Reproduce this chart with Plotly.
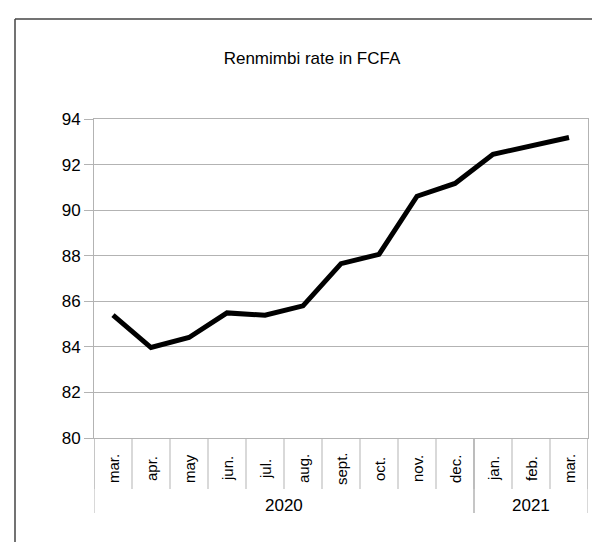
import plotly.graph_objects as go

months = ["mar.", "apr.", "may", "jun.", "jul.", "aug.", "sept.",
          "oct.", "nov.", "dec.", "jan.", "feb.", "mar."]
years = ["2020"] * 10 + ["2021"] * 3
rate = [85.39, 83.97, 84.41, 85.49, 85.39, 85.8, 87.65,
        88.06, 90.61, 91.17, 92.45, 92.83, 93.19]

W, H = 600, 542
L, R, T, B = 86, 20, 111, 112
plot_h = H - T - B
plot_w = W - L - R

def py(px_y):
    # pixel row -> paper y
    return (H - B - px_y) / plot_h

def px(px_x):
    return (px_x - L) / plot_w

FONT = "Liberation Sans, Arial, sans-serif"
GRID = "#b3b3b3"

idx = list(range(len(months)))
fig = go.Figure(go.Scatter(x=idx, y=rate, mode="lines",
                           line=dict(color="black", width=5), hoverinfo="y"))

# month labels, centred in their row
annotations = []
for i, m in zip(idx, months):
    annotations.append(dict(x=i, y=py(461), xref="x", yref="paper", text=m,
                            textangle=-90, showarrow=False, xanchor="center",
                            yanchor="middle", font=dict(size=15, color="black")))

# year labels + group dividers
shapes = []
groups = []
for i, y in enumerate(years):
    if not groups or groups[-1][0] != y:
        groups.append([y, i, i])
    else:
        groups[-1][2] = i
for y, a, b in groups:
    annotations.append(dict(x=(a + b) / 2, y=py(497), xref="x", yref="paper", text=y,
                            showarrow=False, xanchor="center", yanchor="middle",
                            font=dict(size=17, color="black")))
    for edge in (a - 0.5, b + 0.5):
        shapes.append(dict(type="line", xref="x", yref="paper", x0=edge, x1=edge,
                           y0=0, y1=py(505), line=dict(color=GRID, width=1)))
for i in idx + [len(idx)]:
    shapes.append(dict(type="line", xref="x", yref="paper", x0=i - 0.5, x1=i - 0.5,
                       y0=0, y1=py(481), line=dict(color=GRID, width=1)))

# outer chart border (only left and top edges fall inside the picture)
shapes.append(dict(type="line", xref="paper", yref="paper", x0=px(7), x1=px(7),
                   y0=py(546), y1=py(11), line=dict(color="#444444", width=1.5)))
shapes.append(dict(type="line", xref="paper", yref="paper", x0=px(7), x1=px(595),
                   y0=py(11), y1=py(11), line=dict(color="#444444", width=1.5)))

fig.update_layout(
    width=W, height=H,
    margin=dict(l=L, r=R, t=T, b=B),
    paper_bgcolor="white", plot_bgcolor="white",
    font=dict(family=FONT, color="black"),
    showlegend=False,
    title=dict(text="Renmimbi rate in FCFA", x=304 / W, xanchor="center",
               xref="container", y=1 - 50 / H, yanchor="middle",
               font=dict(size=17, color="black")),
    annotations=annotations,
    shapes=shapes,
)
fig.update_xaxes(range=[-0.5, len(idx) - 0.5], showticklabels=False, showgrid=False,
                 zeroline=False, showline=True, linecolor=GRID, linewidth=1,
                 mirror=True, ticks="")
fig.update_yaxes(range=[80, 94], dtick=2, tick0=80, showgrid=True, gridcolor=GRID,
                 gridwidth=1, zeroline=False, showline=True, linecolor=GRID,
                 linewidth=1, mirror=True, ticks="outside", ticklen=9,
                 tickcolor=GRID, tickfont=dict(size=17, color="black"))

fig.write_html("out.html")
